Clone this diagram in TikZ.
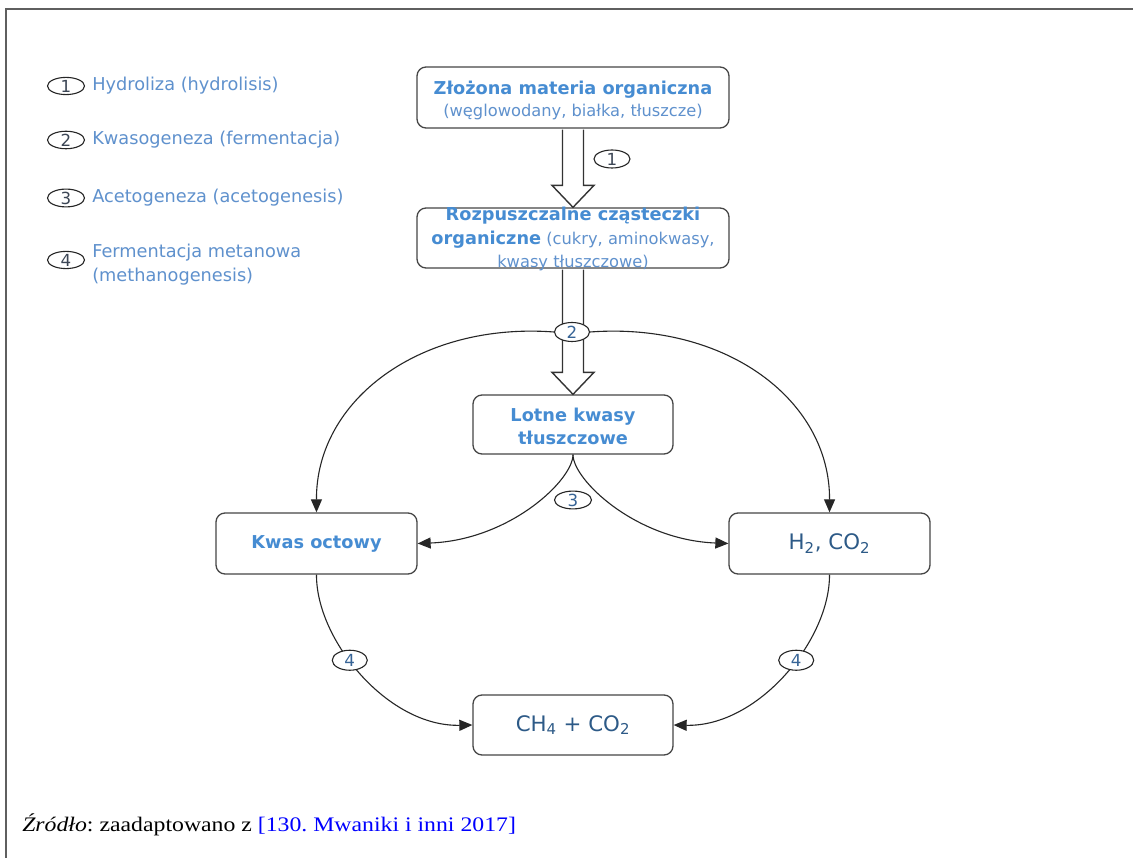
\documentclass[tikz,border=0pt]{standalone}
\usepackage{graphicx}
\usepackage{fontspec}
\setmainfont{DejaVu Sans}
\newfontfamily\capfont{Liberation Serif}
\usetikzlibrary{arrows.meta,shapes.geometric,calc}

\newdimen\px \px=0.75pt

\definecolor{framegray}{RGB}{95,95,95}
\definecolor{boxline}{RGB}{70,70,70}
\definecolor{titleblue}{RGB}{70,140,210}
\definecolor{legblue}{RGB}{95,145,205}
\definecolor{formula}{RGB}{45,90,135}
\definecolor{numblue}{RGB}{55,100,150}
\definecolor{numdark}{RGB}{60,70,85}
\definecolor{linkblue}{RGB}{0,0,255}

\tikzset{
  stage/.style={draw=boxline, line width=1.3\px, rounded corners=9\px, fill=white,
    inner sep=0pt, align=center, font=\fontsize{12.2pt}{16.5pt}\selectfont},
  stagetext/.style={align=center, inner sep=0pt, font=\fontsize{12.2pt}{17pt}\selectfont},
  badge/.style={ellipse, draw=black!85, line width=1.1\px, fill=white, inner sep=0pt,
    minimum width=36\px, minimum height=18\px,
    font=\fontsize{12.5pt}{14pt}\selectfont, text=numblue},
  legbadge/.style={badge, minimum width=37\px, minimum height=16\px, text=numdark},
  legtext/.style={anchor=west, text=legblue, inner sep=0pt, align=left,
    font=\fontsize{13.3pt}{18pt}\selectfont},
  flow/.style={draw=black!85, line width=1.1\px, -{Triangle[length=9.75pt,width=8.25pt]}},
  hollow/.style={draw=black!80, line width=1.4\px, fill=white},
  formulatext/.style={text=formula, font=\fontsize{16pt}{18pt}\selectfont},
}

\newcommand\headtext[1]{{\fontsize{13.3pt}{17pt}\selectfont\bfseries\color{titleblue}#1}}

% wide hollow arrow from the bottom of one box to the top of the next
\newcommand\fatarrow[2]{%
  \path[hollow] ($(#1.south)+(-10.5,1)$) -- ($(#2.north)+(-10.5,-22)$)
    -- ($(#2.north)+(-21,-22)$) -- (#2.north) -- ($(#2.north)+(21,-22)$)
    -- ($(#2.north)+(10.5,-22)$) -- ($(#1.south)+(10.5,1)$);}

\begin{document}
\begin{tikzpicture}[x=0.75pt,y=-0.75pt]
  \useasboundingbox[fill=white] (0,0) rectangle (1133,862);

  % frame
  \draw[framegray, line width=2\px] (6,858) -- (6,9) -- (1133,9);

  % legend
  \node[legbadge] (k1) at (66,86) {1};
  \node[legtext] (t1) at (92,86) {Hydroliza (hydrolisis)};
  \node[legbadge] (k2) at (66,140) {2};
  \node[legtext] (t2) at (92,140) {Kwasogeneza (fermentacja)};
  \node[legbadge] (k3) at (66,198) {3};
  \node[legtext] (t3) at (92,198) {Acetogeneza (acetogenesis)};
  \node[legbadge] (k4) at (66,260) {4};
  \node[legtext] (t4) at (92,265) {Fermentacja metanowa\\(methanogenesis)};

  % stages
  \node[stage, minimum width=312\px, minimum height=61\px] (b1) at (573,97.5) {};
  \node[stagetext] (b1t) at (573,100.5)
    {\headtext{Złożona materia organiczna}\\
     \textcolor{legblue}{(węglowodany, białka, tłuszcze)}};
  \node[stage, minimum width=312\px, minimum height=60\px] (b2) at (573,238) {};
  \node[stagetext, font=\fontsize{12.2pt}{17.5pt}\selectfont] (b2t) at (573,239)
    {\headtext{Rozpuszczalne cząsteczki}\\
     \headtext{organiczne} \textcolor{legblue}{(cukry, aminokwasy,}\\
     \textcolor{legblue}{kwasy tłuszczowe)}};
  \node[stage, minimum width=200\px, minimum height=59\px] (b3) at (573,424.5) {};
  \node[stagetext] (b3t) at (573,426.5)
    {\headtext{Lotne kwasy}\\ \headtext{tłuszczowe}};
  \node[stage, minimum width=201\px, minimum height=61\px] (ac) at (316.5,543.5)
    {\headtext{Kwas octowy}};
  \node[stage, minimum width=201\px, minimum height=61\px, formulatext] (hc) at (829.5,543.5)
    {H\textsubscript{2}, CO\textsubscript{2}};
  \node[stage, minimum width=200\px, minimum height=60\px, formulatext] (ch) at (573,725)
    {CH\textsubscript{4} + CO\textsubscript{2}};

  % hydrolysis and fermentation
  \fatarrow{b1}{b2}
  \node[badge, text=numdark] (s1) at (612,159) {1};
  \fatarrow{b2}{b3}
  \node[badge, minimum width=35\px, minimum height=19\px] (s2) at (572,332) {2};

  \draw[flow] (s2.west) .. controls (420,322) and (316,400) .. (ac.north);
  \draw[flow] (s2.east) .. controls (726,322) and (830,400) .. (hc.north);

  % acetogenesis
  \draw[flow] (b3.south) .. controls (573,480) and (510,540) .. (ac.east);
  \draw[flow] (b3.south) .. controls (573,480) and (636,540) .. (hc.west);
  \node[badge, minimum width=37\px, minimum height=17\px] (s3) at (573,500) {3};

  % methanogenesis
  \draw[flow] (ac.south) .. controls (316,640) and (388,727) .. (ch.west)
    node[badge, pos=0.42, minimum width=35\px, minimum height=20\px] (s4a) {4};
  \draw[flow] (hc.south) .. controls (830,640) and (758,727) .. (ch.east)
    node[badge, pos=0.42, minimum width=35\px, minimum height=20\px] (s4b) {4};

  % source note
  \node[anchor=base west, inner sep=0pt, font=\capfont\fontsize{15.5pt}{18pt}\selectfont] (src) at (22,832)
    {\frenchspacing\scalebox{1.15}[1]{\textit{Źródło}: zaadaptowano z \textcolor{linkblue}{[130. Mwaniki i inni 2017]}}};
\end{tikzpicture}
\end{document}
